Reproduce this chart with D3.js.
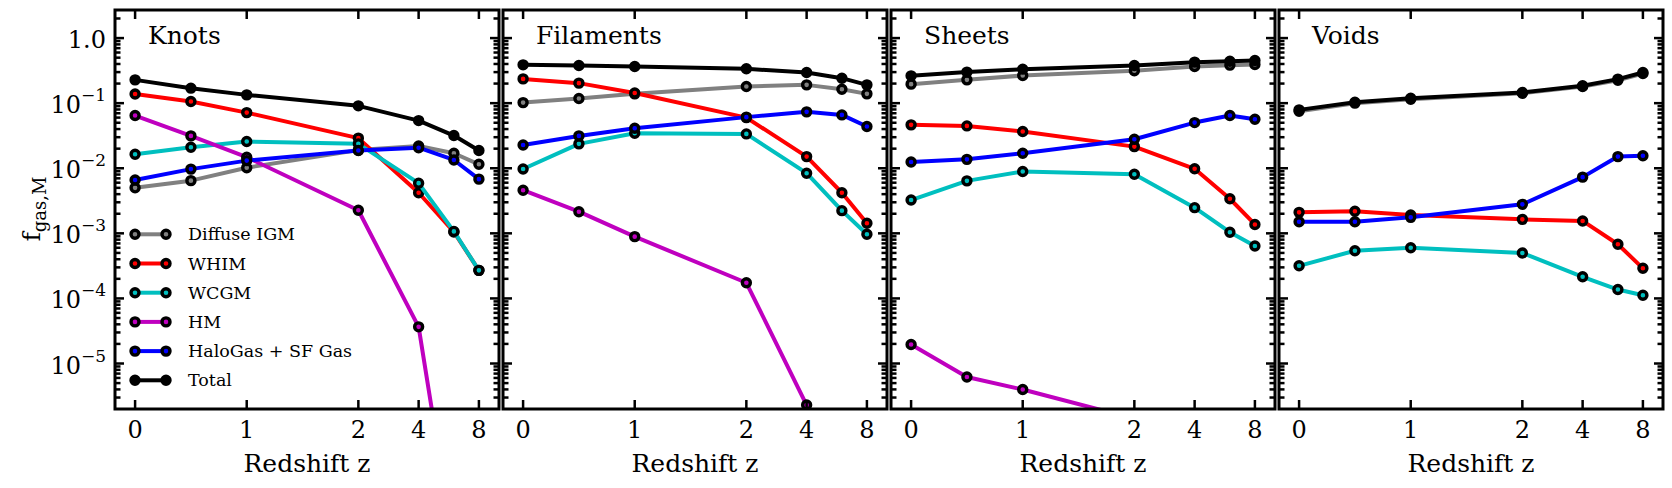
<!DOCTYPE html>
<html>
<head>
<meta charset="utf-8">
<script src="https://cdn.jsdelivr.net/npm/d3@7"></script>
<style>
  body { margin: 0; background: #fff; }
  svg { display: block; }
</style>
</head>
<body>
<div id="chart"></div>
<script>
// ---- data ----
var redshifts = [0, 0.5, 1, 2, 4, 6, 8];
var xTickValues = [0, 1, 2, 4, 8];
var panelNames = ["Knots", "Filaments", "Sheets", "Voids"];
var phaseNames = ["Diffuse IGM", "WHIM", "WCGM", "HM", "HaloGas + SF Gas", "Total"];
var phaseColors = ["#808080", "#ff0000", "#00bfbf", "#bf00bf", "#0000ff", "#000000"];

var knotsDiffuse = [0.0050, 0.00645, 0.0102, 0.019, 0.022, 0.017, 0.0115];
var knotsWHIM    = [0.138, 0.106, 0.0716, 0.029, 0.0042, 0.00105, 0.00027];
var knotsWCGM    = [0.0164, 0.021, 0.0257, 0.0237, 0.0059, 0.00107, 0.00027];
var knotsHM      = [0.0645, 0.0314, 0.0148, 0.00226, 3.66e-5, 1.5e-8, null];
var knotsHalo    = [0.0066, 0.0097, 0.0131, 0.0187, 0.0207, 0.0134, 0.0068];
var knotsTotal   = [0.228, 0.170, 0.134, 0.091, 0.054, 0.0318, 0.0187];

var filDiffuse = [0.102, 0.118, 0.139, 0.18, 0.191, 0.164, 0.139];
var filWHIM    = [0.236, 0.203, 0.143, 0.060, 0.0151, 0.0042, 0.00143];
var filWCGM    = [0.00975, 0.0237, 0.0345, 0.0337, 0.0084, 0.00223, 0.00097];
var filHM      = [0.0046, 0.00215, 0.00089, 0.000174, 2.3e-6, null, null];
var filHalo    = [0.0228, 0.0314, 0.0412, 0.061, 0.0735, 0.066, 0.0437];
var filTotal   = [0.388, 0.38, 0.366, 0.337, 0.296, 0.242, 0.191];

var sheetDiffuse = [0.196, 0.228, 0.266, 0.314, 0.366, 0.384, 0.393];
var sheetWHIM    = [0.0464, 0.0447, 0.0366, 0.0215, 0.0098, 0.0034, 0.00137];
var sheetWCGM    = [0.00325, 0.0064, 0.0089, 0.0081, 0.00248, 0.00104, 0.00064];
var sheetHM      = [1.96e-5, 6.2e-6, 3.98e-6, 1.42e-6, null, null, null];
var sheetHalo    = [0.0125, 0.0137, 0.017, 0.0279, 0.0503, 0.0645, 0.0567];
var sheetTotal   = [0.263, 0.30, 0.333, 0.379, 0.427, 0.44, 0.452];

var voidDiffuse = [0.075, 0.1, 0.115, 0.142, 0.18, 0.225, 0.285];
var voidWHIM    = [0.0021, 0.00218, 0.00191, 0.00164, 0.00155, 0.00068, 0.00029];
var voidWCGM    = [0.000317, 0.00054, 0.0006, 0.0005, 0.000215, 0.000137, 0.000112];
var voidHM      = [null, null, null, null, null, null, null];
var voidHalo    = [0.00151, 0.00151, 0.00176, 0.00279, 0.0073, 0.0151, 0.0156];
var voidTotal   = [0.0789, 0.1036, 0.119, 0.146, 0.185, 0.234, 0.296];

var panelSeries = [
    [knotsDiffuse, knotsWHIM, knotsWCGM, knotsHM, knotsHalo, knotsTotal],
    [filDiffuse, filWHIM, filWCGM, filHM, filHalo, filTotal],
    [sheetDiffuse, sheetWHIM, sheetWCGM, sheetHM, sheetHalo, sheetTotal],
    [voidDiffuse, voidWHIM, voidWCGM, voidHM, voidHalo, voidTotal]
];

// ---- layout ----
var width = 1672, height = 488;
var plotTop = 10, plotBottom = 409;
var panelLeft0 = 115, panelStep = 388, panelWidth = 384;
var serif = "'DejaVu Serif', 'Liberation Serif', serif";

// axis is linear in z up to 2, then logarithmic
function zAxis(z){ return z <= 2 ? z : 2 + 0.54 * Math.log2(z / 2); }

var xScale = d3.scaleLinear().domain([-0.18, 3.26]).range([0, panelWidth]);
var yScale = d3.scaleLog().domain([2e-6, 2.7]).range([plotBottom, plotTop]);
function xPos(z){ return xScale(zAxis(z)); }

var svg = d3.select("#chart").append("svg")
    .attr("width", width).attr("height", height)
    .attr("font-family", serif);

// minor ticks of the log axis
var majorY = [1e-5, 1e-4, 1e-3, 1e-2, 1e-1, 1];
var minorY = [];
for (var e = -6; e <= 0; e++) {
    for (var m = 2; m <= 9; m++) {
        var v = m * Math.pow(10, e);
        if (v > 2e-6 && v < 2.7) minorY.push(v);
    }
}

var line = d3.line()
    .defined(function(d){ return d.v != null; })
    .x(function(d){ return xPos(d.z); })
    .y(function(d){ return yScale(d.v); });

function marker(sel, color){
    sel.attr("r", 4)
        .attr("fill", color)
        .attr("stroke", "#000")
        .attr("stroke-width", 3.4);
}

panelNames.forEach(function(name, p){
    var g = svg.append("g").attr("transform", "translate(" + (panelLeft0 + p * panelStep) + ",0)");

    g.append("clipPath").attr("id", "clip" + p)
        .append("rect").attr("x", 0).attr("y", plotTop).attr("width", panelWidth).attr("height", plotBottom - plotTop);

    var plot = g.append("g").attr("clip-path", "url(#clip" + p + ")");

    panelSeries[p].forEach(function(vals, s){
        var pts = redshifts.map(function(z, i){ return {z: z, v: vals[i]}; });
        var sg = plot.append("g");
        sg.append("path").datum(pts)
            .attr("d", line)
            .attr("fill", "none")
            .attr("stroke", phaseColors[s])
            .attr("stroke-width", 4)
            .attr("stroke-linejoin", "round");
        sg.selectAll("circle").data(pts.filter(function(d){ return d.v != null; })).enter()
            .append("circle")
            .attr("cx", function(d){ return xPos(d.z); })
            .attr("cy", function(d){ return yScale(d.v); })
            .call(marker, phaseColors[s]);
    });

    // ticks (inward, all four sides)
    var ticks = g.append("g").attr("stroke", "#000").attr("stroke-width", 2.5);
    xTickValues.forEach(function(z){
        ticks.append("line").attr("x1", xPos(z)).attr("x2", xPos(z)).attr("y1", plotTop).attr("y2", plotTop + 9);
        ticks.append("line").attr("x1", xPos(z)).attr("x2", xPos(z)).attr("y1", plotBottom).attr("y2", plotBottom - 9);
    });
    majorY.forEach(function(v){
        ticks.append("line").attr("x1", 0).attr("x2", 9).attr("y1", yScale(v)).attr("y2", yScale(v));
        ticks.append("line").attr("x1", panelWidth).attr("x2", panelWidth - 9).attr("y1", yScale(v)).attr("y2", yScale(v));
    });
    minorY.forEach(function(v){
        ticks.append("line").attr("x1", 0).attr("x2", 5.5).attr("y1", yScale(v)).attr("y2", yScale(v));
        ticks.append("line").attr("x1", panelWidth).attr("x2", panelWidth - 5.5).attr("y1", yScale(v)).attr("y2", yScale(v));
    });

    g.append("rect")
        .attr("x", 0).attr("y", plotTop)
        .attr("width", panelWidth).attr("height", plotBottom - plotTop)
        .attr("fill", "none").attr("stroke", "#000").attr("stroke-width", 3);

    // x tick labels
    g.selectAll(".xlab").data(xTickValues).enter().append("text")
        .attr("x", function(z){ return xPos(z); })
        .attr("y", 438)
        .attr("text-anchor", "middle")
        .attr("font-size", 24)
        .text(function(z){ return z; });

    g.append("text")
        .attr("x", panelWidth / 2).attr("y", 472)
        .attr("text-anchor", "middle")
        .attr("font-size", 25)
        .text("Redshift z");

    g.append("text")
        .attr("x", 33).attr("y", 44)
        .attr("font-size", 25)
        .text(name);

    // legend in first panel
    if (p === 0) {
        var leg = g.append("g");
        phaseNames.forEach(function(n, s){
            var ly = 234.3 + s * 29.2;
            leg.append("line").attr("x1", 20).attr("x2", 51).attr("y1", ly).attr("y2", ly)
                .attr("stroke", phaseColors[s]).attr("stroke-width", 4);
            [20, 51].forEach(function(lx){
                leg.append("circle").attr("cx", lx).attr("cy", ly).call(marker, phaseColors[s]);
            });
            leg.append("text").attr("x", 73).attr("y", ly + 6)
                .attr("font-size", 17.5).text(n);
        });
    }
});

// y tick labels (first panel only)
var ylab = svg.append("g");
majorY.forEach(function(v){
    var t = ylab.append("text")
        .attr("x", 106).attr("y", yScale(v) + 10)
        .attr("text-anchor", "end")
        .attr("font-size", 24);
    if (v === 1) { t.text("1.0"); return; }
    t.append("tspan").text("10");
    t.append("tspan").attr("dy", -12).attr("font-size", 17)
        .text("\u2212" + Math.round(-Math.log10(v)));
});

// y axis label
var yl = svg.append("text")
    .attr("transform", "translate(40,209) rotate(-90)")
    .attr("text-anchor", "middle")
    .attr("font-size", 25);
yl.append("tspan").text("f");
yl.append("tspan").attr("dy", 6).attr("font-size", 18).text("gas,M");
</script>
</body>
</html>
